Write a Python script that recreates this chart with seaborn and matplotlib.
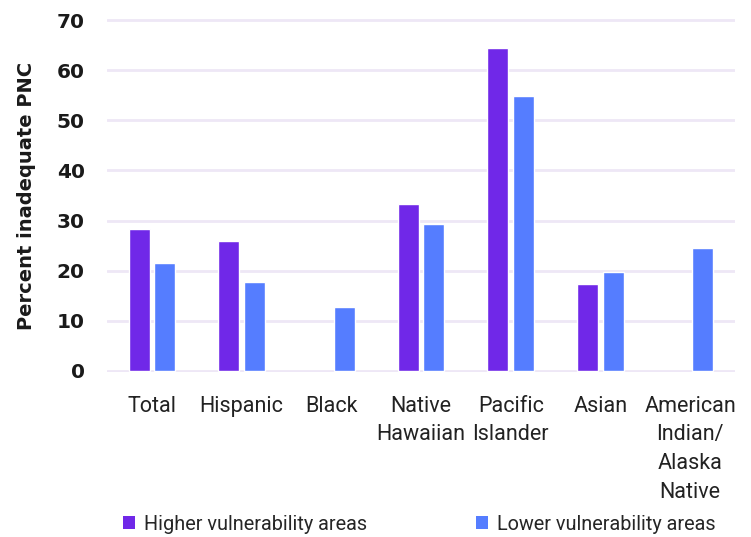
"""Inadequate prenatal care by race/ethnicity and area vulnerability"""
import numpy as np
import pandas as pd
import matplotlib
matplotlib.use('Agg')
import matplotlib.pyplot as plt
import seaborn as sns
from matplotlib.patches import Patch

# Data
GROUPS = ['Total', 'Hispanic', 'Black', 'Native\nHawaiian', 'Pacific\nIslander',
          'Asian', 'American\nIndian/\nAlaska\nNative']
HIGHER = [28.3, 25.9, np.nan, 33.3, 64.4, 17.4, np.nan]
LOWER = [21.6, 17.8, 12.8, 29.3, 54.9, 19.8, 24.6]
SERIES = ['Higher vulnerability areas', 'Lower vulnerability areas']
COLORS = ['#7028E8', '#557DFF']
Y_TICKS = [0, 10, 20, 30, 40, 50, 60, 70]

df = pd.DataFrame({
    'group': GROUPS * 2,
    'series': [SERIES[0]] * len(GROUPS) + [SERIES[1]] * len(GROUPS),
    'value': HIGHER + LOWER,
})

sns.set_theme(style='white')
plt.rcParams['font.family'] = ['Roboto', 'DejaVu Sans']

fig = plt.figure(figsize=(7.51, 5.37), dpi=100)
ax = fig.add_axes([107 / 751, 1 - 372 / 537, 628 / 751, 353 / 537])

sns.barplot(data=df, x='group', y='value', hue='series', order=GROUPS,
            hue_order=SERIES, palette=COLORS, width=0.57, gap=0.18,
            saturation=1, legend=False, ax=ax)

ax.set_ylim(-0.2, 70.2)
ax.set_xlim(-0.5, len(GROUPS) - 0.5)
ax.set_yticks(Y_TICKS)
ax.set_yticklabels([str(t) for t in Y_TICKS], fontfamily='DejaVu Sans',
                   fontweight='heavy', fontsize=14.5, color='#1a1a1a')
ax.set_xticks(range(len(GROUPS)))
ax.set_xticklabels(GROUPS, fontsize=15.5, color='#222222', linespacing=1.48)
ax.tick_params(axis='y', length=0, pad=16)
ax.tick_params(axis='x', length=0, pad=17)
ax.yaxis.grid(True, color='#EEE7F6', linewidth=2)
ax.set_axisbelow(True)
for s in ax.spines.values():
    s.set_visible(False)
ax.set_xlabel('')
ax.set_ylabel('Percent inadequate PNC', fontfamily='DejaVu Sans',
              fontweight='bold', fontsize=14, color='#1a1a1a', labelpad=15)

# legend sits at the very bottom edge, as in the original
handles = [Patch(facecolor=c, edgecolor='none') for c in COLORS]
fig.legend(handles, SERIES, loc='center left', bbox_to_anchor=(123 / 751, 0.024),
           ncol=2, frameon=False, fontsize=14.3, handlelength=0.6,
           handleheight=0.6, handletextpad=0.45, columnspacing=5.5,
           borderpad=0, borderaxespad=0)

fig.savefig('out.png', dpi=100)
plt.close(fig)
